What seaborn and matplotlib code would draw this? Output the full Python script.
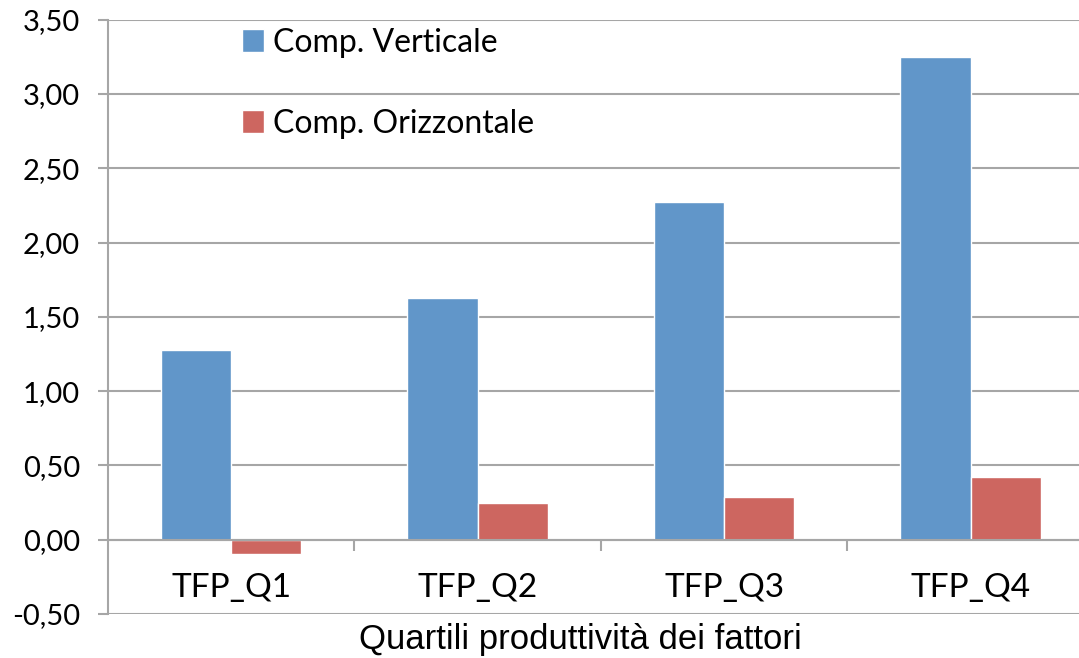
import numpy as np
import pandas as pd
import matplotlib
matplotlib.use("Agg")
import matplotlib.pyplot as plt
import seaborn as sns
from matplotlib.ticker import FuncFormatter, FixedLocator

# data
categories = ["TFP_Q1", "TFP_Q2", "TFP_Q3", "TFP_Q4"]
verticale = [1.28, 1.63, 2.27, 3.25]
orizzontale = [-0.10, 0.25, 0.29, 0.42]
series_names = ["Comp. Verticale", "Comp. Orizzontale"]
y_ticks = [-0.5, 0.0, 0.5, 1.0, 1.5, 2.0, 2.5, 3.0, 3.5]

df = pd.DataFrame({
    "categoria": categories * 2,
    "valore": verticale + orizzontale,
    "serie": [series_names[0]] * 4 + [series_names[1]] * 4,
})

sns.set_style("white")
plt.rcParams["font.family"] = ["Lato", "DejaVu Sans"]
plt.rcParams["text.color"] = "black"
plt.rcParams["axes.labelcolor"] = "black"

grid_col = "#A6A6A6"
palette = {series_names[0]: "#6196C9", series_names[1]: "#CD6660"}

fig = plt.figure(figsize=(10.79, 6.58), dpi=100)
ax = fig.add_axes([0.100, 0.067, 0.900, 0.903])

sns.barplot(data=df, x="categoria", y="valore", hue="serie", palette=palette,
            width=0.57, gap=0, saturation=1, ax=ax, legend=True)

ax.set_ylim(-0.5, 3.5)
ax.set_xlim(-0.5, 3.44)
ax.yaxis.set_major_locator(FixedLocator(y_ticks))
ax.yaxis.set_major_formatter(FuncFormatter(lambda v, p: f"{v:.2f}".replace(".", ",")))
ax.grid(axis="y", color=grid_col, linewidth=1.5)
ax.set_axisbelow(True)

for s in ["top", "right"]:
    ax.spines[s].set_visible(False)
ax.spines["left"].set_color(grid_col)
ax.spines["left"].set_linewidth(1.5)
ax.spines["bottom"].set_position(("data", 0))
ax.spines["bottom"].set_color(grid_col)
ax.spines["bottom"].set_linewidth(1.5)

ax.tick_params(axis="y", left=True, length=7, width=1.5, color=grid_col,
               labelsize=21, pad=13, labelcolor="black")
ax.tick_params(axis="x", which="major", length=0, labelsize=24, pad=24,
               labelcolor="black")
ax.set_xticks([0.5, 1.5, 2.5], minor=True)
ax.tick_params(axis="x", which="minor", bottom=True, length=8, width=1.5,
               color=grid_col, direction="out")

ax.set_xlabel("Quartili produttività dei fattori", fontsize=25,
              family=["Liberation Sans", "DejaVu Sans"], color="black")
ax.xaxis.set_label_coords(0.487, -0.016)
ax.set_ylabel("")

leg = ax.legend(loc="upper left", bbox_to_anchor=(0.108, 1.035), frameon=False,
                fontsize=23, handlelength=0.7, handleheight=0.7,
                handletextpad=0.3, labelspacing=1.6)
for t in leg.get_texts():
    t.set_color("black")

fig.savefig("out.png", dpi=100)
